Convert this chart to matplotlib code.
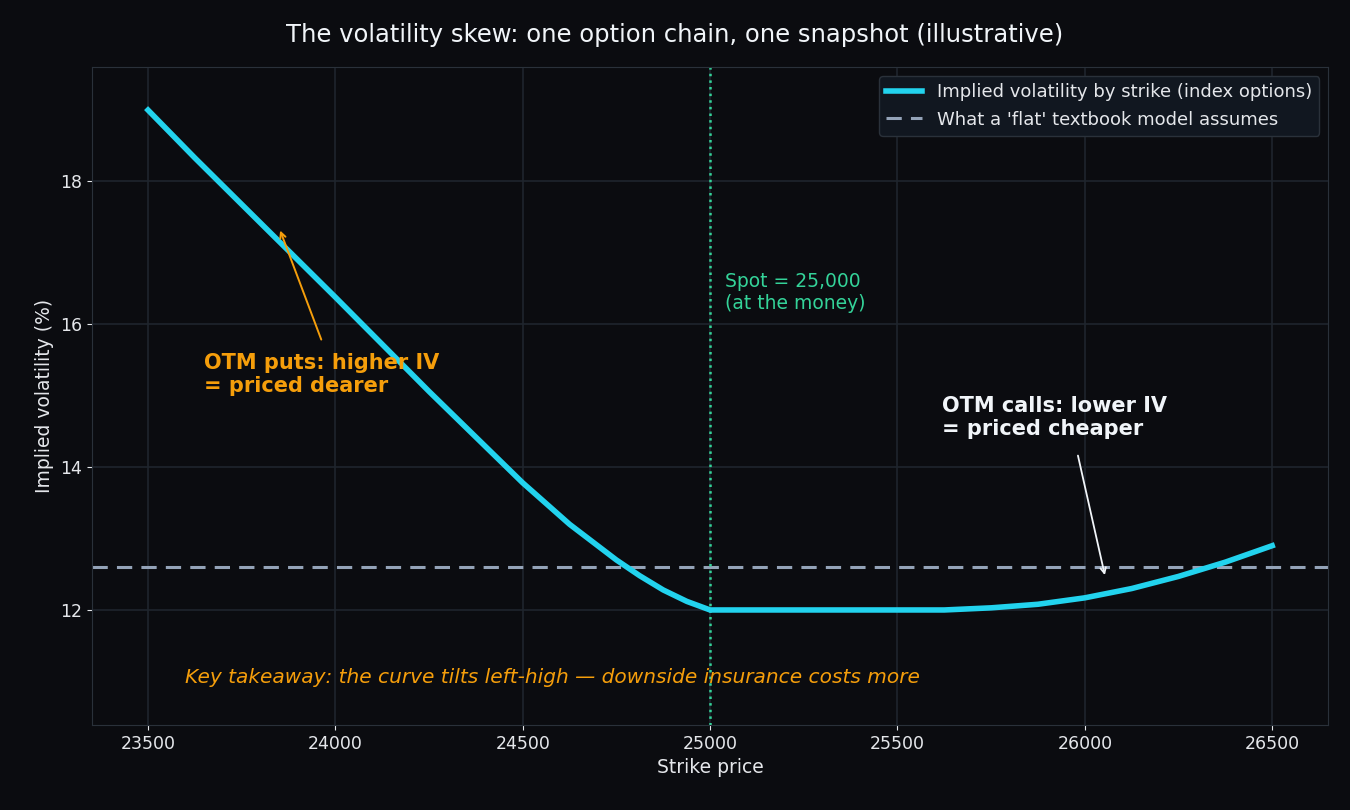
import matplotlib
matplotlib.use("Agg")
import matplotlib.pyplot as plt

plt.rcParams['font.family'] = ['DejaVu Sans']

strikes = [23500, 23625, 23750, 23875, 24000, 24125, 24250, 24375, 24500, 24625, 24750, 24812, 24875, 24938,
           25000, 25125, 25250, 25375, 25500, 25625, 25750, 25875, 26000, 26125, 26250, 26375, 26500]
iv = [19.0, 18.33, 17.68, 17.03, 16.38, 15.72, 15.06, 14.42, 13.78, 13.2, 12.7, 12.48, 12.28, 12.12,
      12.0, 12.0, 12.0, 12.0, 12.0, 12.0, 12.03, 12.08, 12.17, 12.3, 12.47, 12.67, 12.9]
flat_iv = 12.6
spot = 25000

bg = "#0b0c10"
fig = plt.figure(figsize=(13.5, 8.1), dpi=100, facecolor=bg)
ax = fig.add_axes([0.068, 0.105, 0.916, 0.812], facecolor=bg)
for s in ax.spines.values():
    s.set_color("#2a313a")
ax.grid(True, color="#1f252d", linewidth=1.2)
ax.set_axisbelow(True)
ax.tick_params(colors="#e5e7eb", labelsize=12.5)

ax.plot(strikes, iv, color="#22d3ee", linewidth=4, label="Implied volatility by strike (index options)",
        zorder=3, solid_joinstyle="round")
ax.axhline(flat_iv, color="#94a3b8", linestyle="--", linewidth=2.2, dashes=(5, 3),
           label="What a 'flat' textbook model assumes")
ax.axvline(spot, color="#34d399", linestyle=":", linewidth=1.8)

ax.set_xlim(23350, 26650)
ax.set_ylim(10.39, 19.6)
ax.set_yticks([12, 14, 16, 18])
ax.set_xticks(range(23500, 26501, 500))
ax.set_xlabel("Strike price", color="#e5e7eb", fontsize=13.5)
ax.set_ylabel("Implied volatility (%)", color="#e5e7eb", fontsize=13.5)
fig.suptitle("The volatility skew: one option chain, one snapshot (illustrative)",
             color="#f1f5f9", fontsize=17.5, y=0.972)

ax.text(25040, 16.45, "Spot = 25,000\n(at the money)", color="#34d399", fontsize=13.5, va="center")
ax.annotate("", xy=(23850, 17.35), xytext=(23965, 15.75),
            arrowprops=dict(arrowstyle="->", color="#f59e0b", lw=1.4))
ax.text(23650, 15.3, "OTM puts: higher IV\n= priced dearer", color="#f59e0b", fontsize=15,
        fontweight="bold", va="center")
ax.annotate("", xy=(26055, 12.45), xytext=(25980, 14.2),
            arrowprops=dict(arrowstyle="->", color="#f1f5f9", lw=1.3))
ax.text(25620, 14.7, "OTM calls: lower IV\n= priced cheaper", color="#f1f5f9", fontsize=15,
        fontweight="bold", va="center")
ax.text(23600, 11.05, "Key takeaway: the curve tilts left-high \u2014 downside insurance costs more",
        color="#f59e0b", fontsize=14.5, style="italic", va="center")

leg = ax.legend(loc="upper right", fontsize=13, facecolor="#111720", edgecolor="#2a313a", framealpha=1)
for t in leg.get_texts():
    t.set_color("#e5e7eb")

fig.savefig("out.png", dpi=100, facecolor=bg)
